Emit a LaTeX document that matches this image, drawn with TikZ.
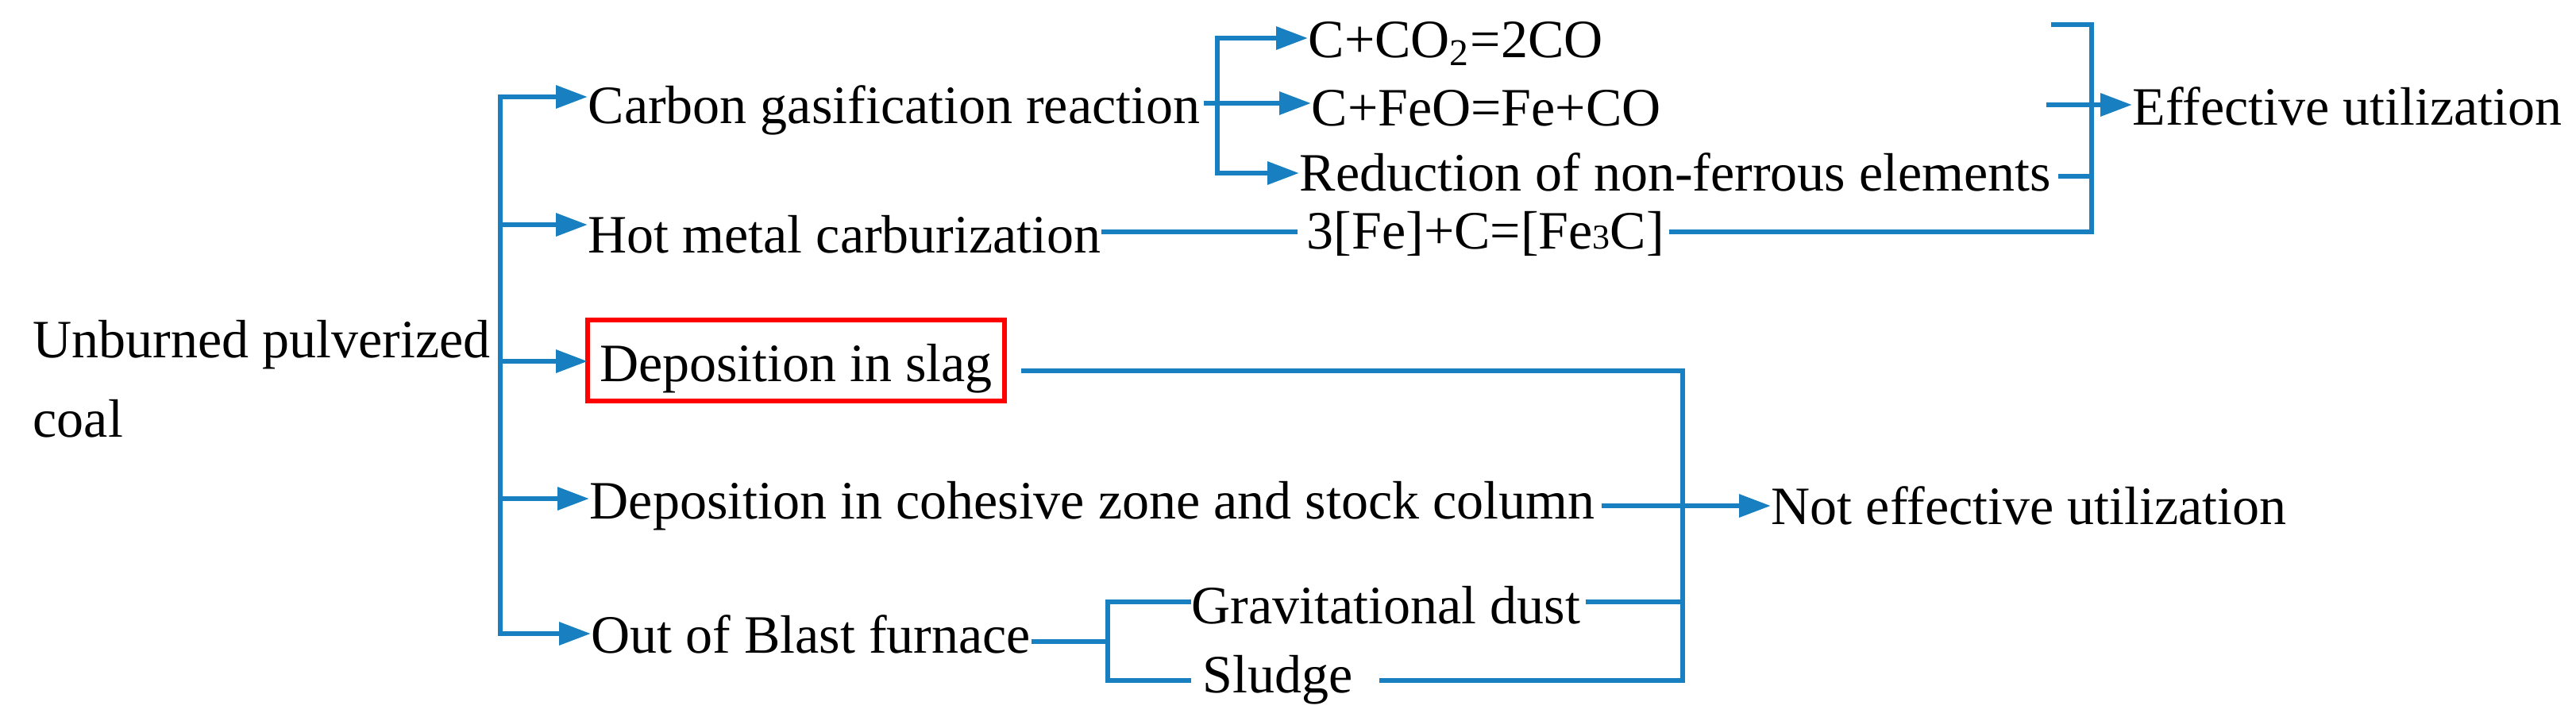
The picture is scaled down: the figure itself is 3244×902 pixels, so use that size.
\documentclass[tikz,border=0pt]{standalone}
\usepackage{fontspec}
\setmainfont{Liberation Serif}
\usetikzlibrary{arrows.meta}
\definecolor{lblue}{RGB}{24,128,192}
\begin{document}
\begin{tikzpicture}[x=0.25pt,y=-0.25pt,
  txt/.style={anchor=base west,inner sep=0pt,font=\fontsize{17pt}{25pt}\selectfont},
  ln/.style={draw=lblue,line width=1.6pt},
  tip/.style={-{Triangle[length=10pt,width=7pt]}},
  arr/.style={ln,tip},
  redbox/.style={draw=red,line width=1.6pt,outer sep=0pt,inner xsep=3.75pt,inner ysep=0pt,text height=19.25pt,text depth=6.25pt}]
\useasboundingbox (0,0) rectangle (3244,902);
% texts
\node[txt] (coal) at (41,450) {\begin{tabular}[t]{@{}l@{}}Unburned pulverized\\coal\end{tabular}};
\node[txt] (carbon) at (740,155) {Carbon gasification reaction};
\node[txt] (hot) at (740,318) {Hot metal carburization};
\node[txt,redbox] (slag) at (740,480) {Deposition in slag};
\node[txt] (coh) at (742,653) {Deposition in cohesive zone and stock column};
\node[txt] (out) at (744,822) {Out of Blast furnace};
\node[txt] (co2) at (1647,72) {C+CO\textsubscript{2}=2CO};
\node[txt] (feo) at (1651,158) {C+FeO=Fe+CO};
\node[txt] (red) at (1636,240) {Reduction of non-ferrous elements};
\node[txt] (fe3c) at (1645,313) {3[Fe]+C=[Fe{\fontsize{11pt}{11pt}\selectfont 3}C]};
\node[txt] (eff) at (2685,157) {Effective utilization};
\node[txt] (grav) at (1500,785) {Gravitational dust};
\node[txt] (sludge) at (1514,872) {Sludge};
\node[txt] (noteff) at (2230,660) {Not effective utilization};
% junction coordinates
\coordinate (trT) at (630,122);
\coordinate (trB) at (630,798);
\coordinate (tH) at (630,283);
\coordinate (tS) at (630,455);
\coordinate (tC) at (630,628);
\coordinate (cbT) at (1533,48);
\coordinate (cbM) at (1533,130);
\coordinate (cbB) at (1533,218);
\coordinate (bkT) at (2634,31);
\coordinate (stT) at (2583,31);
\coordinate (stM) at (2577,132);
\coordinate (bkR) at (2634,222);
\coordinate (bkB) at (2634,292);
\coordinate (nT) at (2119,467);
\coordinate (nC) at (2119,637);
\coordinate (nG) at (2119,758);
\coordinate (nB) at (2119,857);
\coordinate (oM) at (1395,808);
\coordinate (oT) at (1395,758);
\coordinate (oB) at (1395,857);
% trunk
\draw[ln,{Triangle[length=10pt,width=7pt]}-{Triangle[length=10pt,width=7pt]}]
  (trT -| carbon.west) -- (trT) -- (trB) -- (trB -| out.west);
\draw[arr] (tH) -- (tH -| hot.west);
\draw[arr] (tS) -- (tS -| slag.west);
\draw[arr] (tC) -- (tC -| coh.west);
% carbon branch
\draw[arr] ([xshift=1pt]carbon.east |- cbM) -- (cbM -| feo.west);
\draw[ln,{Triangle[length=10pt,width=7pt]}-{Triangle[length=10pt,width=7pt]}]
  (cbT -| co2.west) -- (cbT) -- (cbB) -- (cbB -| red.west);
% hot metal and effective bracket
\draw[ln] (hot.east |- bkB) -- ([xshift=-2.75pt]fe3c.west |- bkB);
\draw[ln] ([xshift=1.25pt]fe3c.east |- bkB) -- (bkB) -- (bkT) -- (stT);
\draw[arr] (stM) -- (stM -| eff.west);
\draw[ln] ([xshift=2pt]red.east |- bkR) -- (bkR);
% not effective bracket
\draw[ln] ([xshift=5.25pt]slag.east |- nT) -- (nT) -- (nB) -- ([xshift=8pt]sludge.east |- nB);
\draw[arr] ([xshift=2pt]coh.east |- nC) -- (nC -| noteff.west);
\draw[ln] ([xshift=1.5pt]grav.east |- nG) -- (nG);
% out of blast furnace branch
\draw[ln] (out.east |- oM) -- (oM);
\draw[ln] (oT -| grav.west) -- (oT) -- (oB) -- ([xshift=-3.5pt]sludge.west |- oB);
\end{tikzpicture}
\end{document}
